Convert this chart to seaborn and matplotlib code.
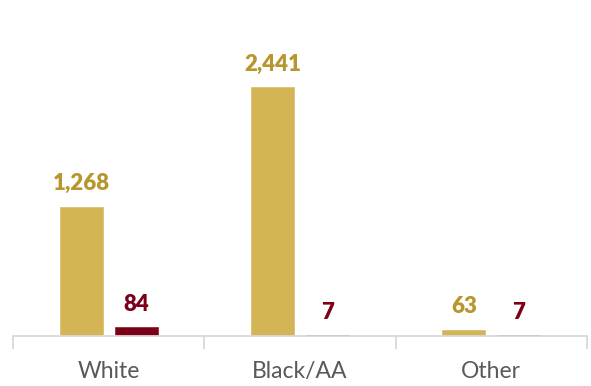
import numpy as np
import pandas as pd
import matplotlib
matplotlib.use("Agg")
import matplotlib.pyplot as plt
import seaborn as sns

# data
categories = ["White", "Black/AA", "Other"]
series_names = ["Series A", "Series B"]
series_a = [1268, 2441, 63]
series_b = [84, 7, 7]

bar_colors = ["#D4B556", "#7C0018"]
label_colors = ["#B8962E", "#7C0018"]

df = pd.DataFrame({
    "category": categories * 2,
    "series": [series_names[0]] * 3 + [series_names[1]] * 3,
    "value": series_a + series_b,
})

sns.set_style("white")
plt.rcParams["font.family"] = ["Lato", "DejaVu Sans"]

fig = plt.figure(figsize=(5.91, 3.86), dpi=100)
ax = fig.add_axes([13 / 591, 50 / 386, 574 / 591, 336 / 386])

sns.barplot(data=df, x="category", y="value", hue="series",
            palette=bar_colors, width=0.574, gap=0.216,
            saturation=1, legend=False, ax=ax, order=categories)

# thin outline so the tiny bars still show as a hairline
for cont, col in zip(ax.containers, bar_colors):
    for bar in cont:
        bar.set_edgecolor(col)
        bar.set_linewidth(0.4)
        bar.set_alpha(1)

for cont, col in zip(ax.containers, label_colors):
    ax.bar_label(cont, labels=[f"{v:,.0f}" for v in cont.datavalues],
                 padding=9, color=col, fontsize=16, fontweight="heavy")

ax.set_xlim(-0.5, 2.5)
ax.set_ylim(0, 3300)
ax.set_xlabel("")
ax.set_ylabel("")
ax.set_yticks([])
for s in ["top", "right", "left"]:
    ax.spines[s].set_visible(False)
ax.spines["bottom"].set_color("#D9D9D9")
ax.spines["bottom"].set_linewidth(1.3)

# category labels centred, tick marks at the boundaries
ax.set_xticks(range(len(categories)))
ax.set_xticklabels(categories, fontsize=16.5, color="#595959")
ax.tick_params(axis="x", which="major", length=0, pad=18)
ax.set_xticks(np.arange(-0.5, len(categories), 1.0), minor=True)
ax.tick_params(axis="x", which="minor", bottom=True, length=9, width=1.3,
               color="#D9D9D9")

fig.savefig("out.png", dpi=100)
